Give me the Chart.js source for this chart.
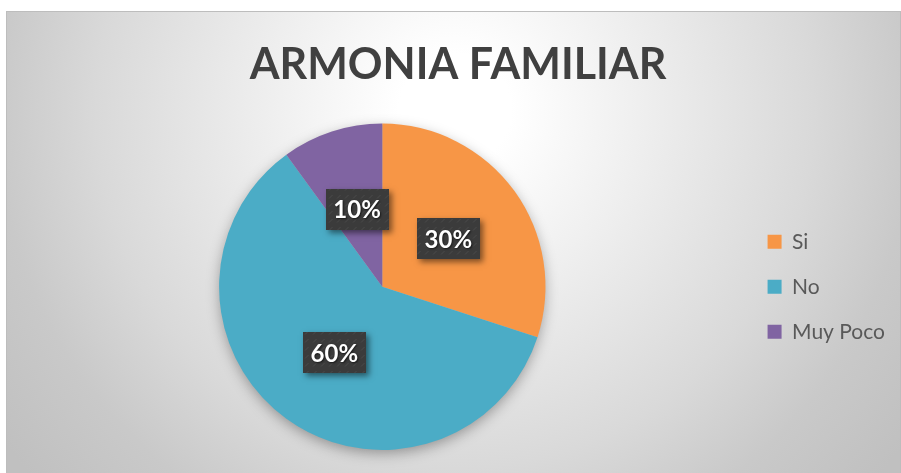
<!DOCTYPE html>
<html lang="es">
<head>
<meta charset="utf-8">
<title>Armonia Familiar</title>
<script src="https://cdn.jsdelivr.net/npm/chart.js@4.4.0/dist/chart.umd.min.js"></script>
<style>
  html, body { margin: 0; padding: 0; background: #fff; overflow: hidden; }
  #caja { width: 901px; height: 473px; }
</style>
</head>
<body>
<div id="caja"><canvas id="graficoArmonia" width="901" height="473"></canvas></div>
<script>
const titulo = "ARMONIA FAMILIAR";
const categorias = ["Si", "No", "Muy Poco"];
const valores = [30, 60, 10];
const colores = ["#F79646", "#4BACC6", "#8064A2"];

const fonte = "Lato";

// fundo com degradê radial (estilo Excel) e borda fina
const fundoPlugin = {
  id: 'fundo',
  beforeDraw(chart) {
    const ctx = chart.ctx;
    const x0 = 6, y0 = 11;
    const w = chart.width - x0, h = chart.height - y0;
    ctx.save();
    const g = ctx.createRadialGradient(455, 110, 0, 455, 110, 560);
    g.addColorStop(0, '#ffffff');
    g.addColorStop(0.1, '#ffffff');
    g.addColorStop(0.64, '#d9d9d9');
    g.addColorStop(0.82, '#c9c9c9');
    g.addColorStop(1, '#c0c0c0');
    ctx.fillStyle = g;
    ctx.fillRect(x0, y0, w, h);
    ctx.strokeStyle = '#bdbdbd';
    ctx.lineWidth = 1;
    ctx.strokeRect(x0 + 0.5, y0 + 0.5, w - 1, h + 2);
    ctx.restore();
  }
};

// sombra suave atrás da pizza
const sombraPlugin = {
  id: 'sombra',
  beforeDatasetsDraw(chart) {
    const arco = chart.getDatasetMeta(0).data[0];
    if (!arco) return;
    const ctx = chart.ctx;
    ctx.save();
    ctx.shadowColor = 'rgba(0,0,0,0.35)';
    ctx.shadowBlur = 14;
    ctx.shadowOffsetY = 4;
    ctx.fillStyle = '#bbbbbb';
    ctx.beginPath();
    ctx.arc(arco.x, arco.y, arco.outerRadius - 1, 0, Math.PI * 2);
    ctx.fill();
    ctx.restore();
  }
};

// textura escura das caixas de rótulo
function criarTextura(ctx) {
  const c = document.createElement('canvas');
  c.width = 8; c.height = 8;
  const t = c.getContext('2d');
  t.fillStyle = '#3b3b3b';
  t.fillRect(0, 0, 8, 8);
  t.strokeStyle = '#4b4b4b';
  t.lineWidth = 1;
  t.beginPath();
  t.moveTo(1, 6.5);
  t.lineTo(4.5, 3);
  t.stroke();
  return ctx.createPattern(c, 'repeat');
}

// rótulos de porcentagem em caixas escuras
const rotulosPlugin = {
  id: 'rotulos',
  afterDatasetsDraw(chart) {
    const ctx = chart.ctx;
    const meta = chart.getDatasetMeta(0);
    const total = valores.reduce((a, b) => a + b, 0);
    const textura = criarTextura(ctx);
    const w = 63, h = 41;
    meta.data.forEach((arco, i) => {
      const p = arco.getCenterPoint();
      const texto = Math.round(valores[i] / total * 100) + '%';
      const x = Math.round(p.x - w / 2), y = Math.round(p.y - h / 2);
      ctx.save();
      ctx.shadowColor = 'rgba(0,0,0,0.5)';
      ctx.shadowBlur = 6;
      ctx.shadowOffsetX = 3;
      ctx.shadowOffsetY = 3;
      ctx.fillStyle = '#3b3b3b';
      ctx.fillRect(x, y, w, h);
      ctx.restore();
      ctx.save();
      ctx.fillStyle = textura;
      ctx.fillRect(x, y, w, h);
      ctx.shadowColor = 'rgba(0,0,0,0.6)';
      ctx.shadowBlur = 2;
      ctx.shadowOffsetX = 1;
      ctx.shadowOffsetY = 1;
      ctx.fillStyle = '#ffffff';
      ctx.font = 'bold 24px ' + fonte;
      ctx.textAlign = 'center';
      ctx.textBaseline = 'middle';
      ctx.fillText(texto, p.x, p.y + 1);
      ctx.restore();
    });
  }
};

const ctx = document.getElementById('graficoArmonia').getContext('2d');
new Chart(ctx, {
  type: 'pie',
  data: {
    labels: categorias,
    datasets: [{
      data: valores,
      backgroundColor: colores,
      borderWidth: 0
    }]
  },
  options: {
    responsive: false,
    animation: false,
    devicePixelRatio: 1,
    layout: { padding: { top: 12, left: 21, right: 6, bottom: 23 } },
    plugins: {
      title: {
        display: true,
        text: titulo,
        color: '#404040',
        font: { family: fonte, size: 43, weight: 'bold' },
        padding: { top: 27, bottom: 33 }
      },
      legend: {
        position: 'right',
        fullSize: false,
        labels: {
          boxWidth: 14,
          boxHeight: 14,
          padding: 24,
          color: '#595959',
          font: { family: fonte, size: 21 }
        }
      },
      tooltip: { enabled: false }
    }
  },
  plugins: [fundoPlugin, sombraPlugin, rotulosPlugin]
});
</script>
</body>
</html>
